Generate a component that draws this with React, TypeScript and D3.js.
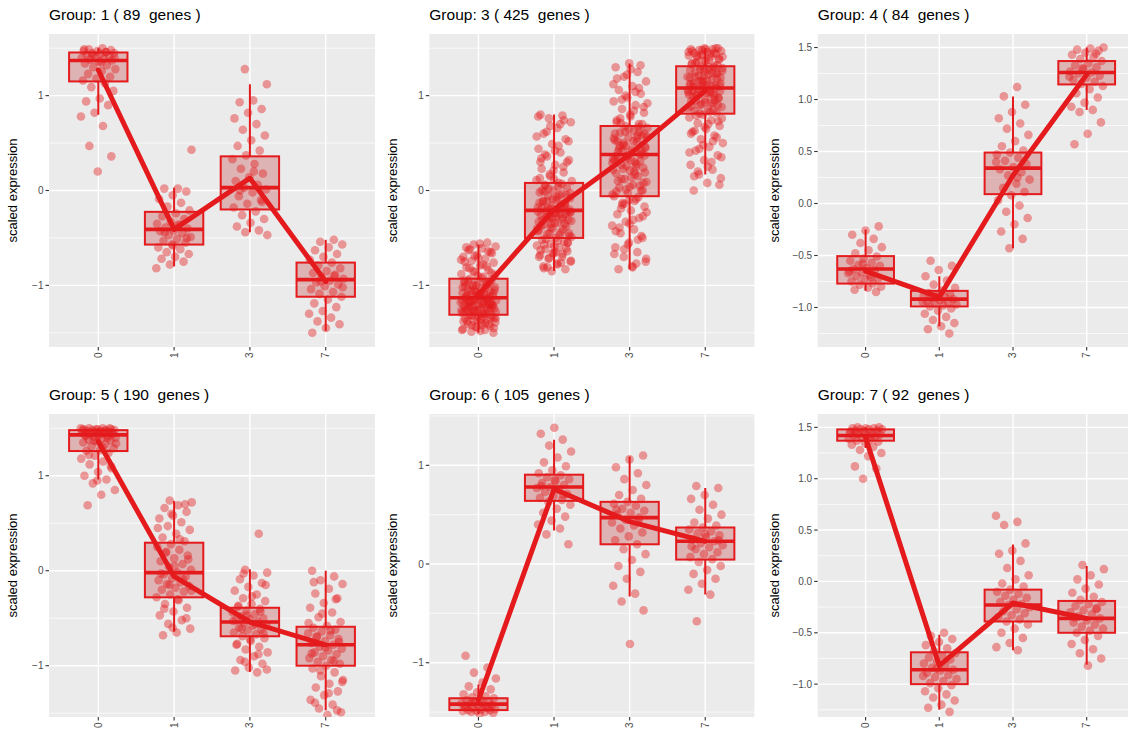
import React from "react";
import * as d3 from "d3";

// time points on the x axis and the clusters shown
const timepoints = ["0", "1", "3", "7"];
const groupIds = [1, 3, 4, 5, 6, 7];
const geneCounts = [89, 425, 84, 190, 105, 92];

// y range and ticks of every panel
const yDomains = [
  [-1.65, 1.65],
  [-1.65, 1.65],
  [-1.38, 1.63],
  [-1.54, 1.65],
  [-1.55, 1.52],
  [-1.32, 1.63],
];
const yTicks = [
  [-1, 0, 1],
  [-1, 0, 1],
  [-1, -0.5, 0, 0.5, 1, 1.5],
  [-1, 0, 1],
  [-1, 0, 1],
  [-1, -0.5, 0, 0.5, 1, 1.5],
];

// boxplot statistics per group (one value per time point)
const boxLow = [
  [0.8, -0.8, -0.44, -1.48],
  [-1.5, -0.85, -0.83, 0.17],
  [-0.84, -1.18, -0.43, 0.9],
  [0.96, -0.64, -1.065, -1.47],
  [-1.52, 0.34, -0.33, -0.31],
  [1.3, -1.25, -0.67, -0.81],
];
const boxQ1 = [
  [1.15, -0.57, -0.2, -1.12],
  [-1.31, -0.5, -0.06, 0.81],
  [-0.77, -0.99, 0.09, 1.145],
  [1.26, -0.28, -0.69, -1.0],
  [-1.48, 0.64, 0.2, 0.045],
  [1.37, -1.0, -0.39, -0.5],
];
const boxMedian = [
  [1.37, -0.41, 0.03, -0.94],
  [-1.13, -0.21, 0.38, 1.08],
  [-0.63, -0.92, 0.34, 1.26],
  [1.43, -0.02, -0.54, -0.78],
  [-1.42, 0.78, 0.47, 0.23],
  [1.42, -0.86, -0.23, -0.36],
];
const boxQ3 = [
  [1.455, -0.225, 0.36, -0.76],
  [-0.93, 0.08, 0.68, 1.31],
  [-0.506, -0.84, 0.49, 1.37],
  [1.48, 0.295, -0.39, -0.59],
  [-1.36, 0.905, 0.63, 0.37],
  [1.48, -0.69, -0.08, -0.19],
];
const boxHigh = [
  [1.5, 0.03, 1.12, -0.52],
  [-0.57, 0.8, 1.34, 1.5],
  [-0.25, -0.7, 1.03, 1.5],
  [1.5, 0.735, 0.015, 0.0],
  [-1.22, 1.26, 1.09, 0.77],
  [1.5, -0.52, 0.36, 0.15],
];
// trend line through the group means
const trendMean = [
  [1.27, -0.41, 0.13, -0.96],
  [-1.1, -0.2, 0.38, 1.05],
  [-0.65, -0.9, 0.27, 1.24],
  [1.36, -0.06, -0.54, -0.78],
  [-1.38, 0.76, 0.43, 0.23],
  [1.4, -0.82, -0.21, -0.36],
];

// scaled expression of the genes, per time point
const group1Points = [
  [1.5, 1.49, 1.48, 1.47, 1.47, 1.46, 1.45, 1.45, 1.44, 1.43, 1.42, 1.41, 1.4, 1.39, 1.38, 1.37, 1.36, 1.34, 1.32, 1.3, 1.28, 1.26, 1.23, 1.2, 1.18, 1.16, 1.13, 1.09, 1.05, 0.97, 0.94, 0.9, 0.82, 0.78, 0.68, 0.47, 0.36, 0.2, 1.49, 1.46, 1.43, 1.4, 1.35],
  [0.43, 0.02, 0.02, -0.01, -0.05, -0.09, -0.13, -0.17, -0.21, -0.24, -0.27, -0.3, -0.33, -0.35, -0.37, -0.39, -0.4, -0.42, -0.43, -0.45, -0.47, -0.49, -0.51, -0.53, -0.55, -0.57, -0.6, -0.62, -0.65, -0.67, -0.7, -0.72, -0.75, -0.78, -0.82, -0.36, -0.44, -0.5, -0.58],
  [1.28, 1.12, 0.95, 0.93, 0.86, 0.82, 0.76, 0.7, 0.64, 0.58, 0.53, 0.47, 0.42, 0.37, 0.33, 0.28, 0.23, 0.18, 0.14, 0.1, 0.06, 0.03, 0.01, -0.02, -0.06, -0.1, -0.14, -0.18, -0.22, -0.26, -0.3, -0.34, -0.38, -0.42, -0.44, -0.47, 0.2, 0.0, -0.12],
  [-0.52, -0.54, -0.57, -0.6, -0.63, -0.67, -0.7, -0.73, -0.76, -0.79, -0.82, -0.85, -0.87, -0.89, -0.91, -0.93, -0.95, -0.97, -0.99, -1.01, -1.04, -1.07, -1.09, -1.12, -1.15, -1.19, -1.23, -1.27, -1.3, -1.34, -1.38, -1.41, -1.45, -1.5, -0.9, -0.96, -1.02],
];
const group3Points = [
  [-0.55, -0.57, -0.59, -0.61, -0.63, -0.65, -0.68, -0.7, -0.72, -0.74, -0.76, -0.79, -0.81, -0.84, -0.86, -0.88, -0.91, -0.93, -0.94, -0.96, -0.97, -0.99, -1.0, -1.02, -1.03, -1.04, -1.06, -1.07, -1.08, -1.09, -1.1, -1.11, -1.12, -1.13, -1.14, -1.15, -1.16, -1.17, -1.18, -1.19, -1.2, -1.21, -1.22, -1.23, -1.24, -1.25, -1.26, -1.27, -1.28, -1.29, -1.3, -1.31, -1.32, -1.33, -1.35, -1.36, -1.37, -1.39, -1.4, -1.41, -1.43, -1.44, -1.46, -1.47, -1.49, -1.5,
    -0.56, -0.6, -0.64, -0.69, -0.73, -0.78, -0.82, -0.87, -0.9, -0.95, -0.98, -1.01, -1.05, -1.08, -1.1, -1.12, -1.14, -1.16, -1.18, -1.19, -1.21, -1.22, -1.24, -1.25, -1.27, -1.28, -1.3, -1.32, -1.34, -1.36, -1.38, -1.4, -1.42, -1.45, -1.48, -1.15, -1.2, -1.05, -1.26, -1.33,
    -0.62, -0.66, -0.71, -0.75, -0.8, -0.85, -0.89, -0.92, -0.95, -0.97, -1.0, -1.02, -1.04, -1.06, -1.08, -1.1, -1.12, -1.14, -1.16, -1.18, -1.2, -1.22, -1.24, -1.26, -1.28, -1.3, -1.32, -1.34, -1.36, -1.38, -1.41, -1.44, -1.47, -1.13, -1.17, -1.21, -1.09, -1.01, -0.99, -1.27, -1.35, -1.42, -1.23, -1.19, -1.11],
  [0.8, 0.79, 0.76, 0.72, 0.66, 0.6, 0.54, 0.49, 0.44, 0.4, 0.36, 0.32, 0.27, 0.23, 0.19, 0.15, 0.11, 0.08, 0.06, 0.03, 0.0, -0.02, -0.04, -0.06, -0.08, -0.1, -0.12, -0.14, -0.16, -0.18, -0.2, -0.21, -0.22, -0.24, -0.26, -0.28, -0.3, -0.32, -0.34, -0.36, -0.38, -0.4, -0.42, -0.44, -0.46, -0.48, -0.5, -0.52, -0.54, -0.56, -0.58, -0.6, -0.62, -0.64, -0.66, -0.68, -0.7, -0.72, -0.75, -0.77, -0.8, -0.83, -0.85,
    0.78, 0.7, 0.62, 0.52, 0.42, 0.34, 0.25, 0.17, 0.1, 0.04, -0.01, -0.05, -0.09, -0.13, -0.17, -0.19, -0.23, -0.27, -0.31, -0.35, -0.39, -0.43, -0.47, -0.51, -0.55, -0.59, -0.63, -0.67, -0.71, -0.74, -0.78, -0.82, -0.25, -0.29, -0.33, -0.15, -0.11, -0.45, -0.65, 0.0,
    0.74, 0.68, 0.57, 0.47, 0.38, 0.3, 0.21, 0.13, 0.07, 0.02, -0.03, -0.07, -0.11, -0.15, -0.19, -0.22, -0.25, -0.28, -0.31, -0.34, -0.37, -0.41, -0.45, -0.49, -0.53, -0.57, -0.61, -0.66, -0.7, -0.76, -0.81, -0.2, -0.24, -0.18, -0.13, -0.35, -0.4, -0.05, 0.05, -0.55, 0.12, 0.3, -0.3, -0.27, -0.23],
  [1.34, 1.3, 1.25, 1.2, 1.15, 1.1, 1.06, 1.02, 0.98, 0.94, 0.9, 0.86, 0.82, 0.78, 0.74, 0.7, 0.68, 0.66, 0.63, 0.61, 0.58, 0.56, 0.53, 0.51, 0.48, 0.46, 0.43, 0.41, 0.38, 0.36, 0.33, 0.3, 0.27, 0.24, 0.21, 0.18, 0.15, 0.12, 0.09, 0.06, 0.03, 0.0, -0.03, -0.06, -0.09, -0.13, -0.17, -0.21, -0.25, -0.29, -0.33, -0.37, -0.41, -0.45, -0.5, -0.55, -0.6, -0.65, -0.7, -0.75, -0.8, -0.83,
    1.32, 1.22, 1.12, 1.04, 0.96, 0.88, 0.8, 0.72, 0.67, 0.62, 0.57, 0.52, 0.47, 0.42, 0.37, 0.32, 0.28, 0.23, 0.19, 0.14, 0.1, 0.05, 0.01, -0.04, -0.11, -0.19, -0.27, -0.35, -0.43, -0.52, -0.62, -0.72, -0.81, 0.44, 0.39, 0.34, 0.55, 0.25, -0.15, 0.6,
    1.28, 1.18, 1.08, 1.0, 0.92, 0.84, 0.76, 0.7, 0.65, 0.6, 0.55, 0.5, 0.45, 0.4, 0.35, 0.31, 0.26, 0.22, 0.17, 0.12, 0.08, 0.04, -0.01, -0.07, -0.14, -0.23, -0.31, -0.39, -0.48, -0.57, -0.67, -0.77, 0.42, 0.37, 0.32, 0.52, 0.62, 0.47, 0.29, 0.2, 0.71, 0.0, -0.1, 0.36, 0.58],
  [1.5, 1.5, 1.49, 1.49, 1.48, 1.47, 1.46, 1.45, 1.44, 1.43, 1.42, 1.41, 1.4, 1.38, 1.36, 1.34, 1.32, 1.31, 1.29, 1.27, 1.25, 1.23, 1.21, 1.19, 1.17, 1.15, 1.13, 1.11, 1.09, 1.08, 1.06, 1.04, 1.02, 1.0, 0.98, 0.96, 0.94, 0.92, 0.9, 0.88, 0.86, 0.84, 0.82, 0.8, 0.77, 0.74, 0.71, 0.68, 0.65, 0.62, 0.58, 0.54, 0.5, 0.46, 0.42, 0.37, 0.32, 0.27, 0.22, 0.17, 0.13, 0.08, 0.0,
    1.5, 1.48, 1.46, 1.44, 1.42, 1.39, 1.37, 1.33, 1.3, 1.28, 1.26, 1.22, 1.2, 1.18, 1.14, 1.12, 1.1, 1.07, 1.05, 1.03, 0.99, 0.95, 0.91, 0.87, 0.83, 0.79, 0.73, 0.67, 0.6, 0.52, 0.44, 0.35, 0.25, 0.15, 1.24, 1.16, 1.01, 0.93, 1.35, 0.06,
    1.49, 1.47, 1.45, 1.43, 1.41, 1.38, 1.35, 1.32, 1.29, 1.27, 1.24, 1.21, 1.19, 1.16, 1.13, 1.11, 1.09, 1.06, 1.04, 1.01, 0.97, 0.93, 0.89, 0.85, 0.81, 0.76, 0.7, 0.63, 0.56, 0.48, 0.4, 0.3, 0.2, 1.1, 1.08, 1.05, 1.0, 1.15, 1.2, 1.3, 0.95, 0.9, 1.25, 1.12, 1.02],
];
const group4Points = [
  [-0.22, -0.26, -0.3, -0.34, -0.38, -0.42, -0.45, -0.48, -0.51, -0.53, -0.55, -0.57, -0.59, -0.6, -0.62, -0.63, -0.64, -0.66, -0.67, -0.69, -0.7, -0.72, -0.73, -0.75, -0.77, -0.78, -0.8, -0.81, -0.83, -0.85, -0.58, -0.65, -0.71],
  [-0.55, -0.6, -0.64, -0.7, -0.74, -0.78, -0.81, -0.84, -0.86, -0.87, -0.88, -0.89, -0.9, -0.91, -0.92, -0.93, -0.94, -0.95, -0.96, -0.97, -0.98, -0.99, -1.01, -1.03, -1.06, -1.09, -1.12, -1.15, -1.18, -1.21, -1.25, -0.9, -0.95],
  [1.12, 1.03, 0.95, 0.88, 0.82, 0.77, 0.72, 0.66, 0.6, 0.55, 0.51, 0.49, 0.47, 0.44, 0.41, 0.38, 0.35, 0.33, 0.3, 0.27, 0.23, 0.19, 0.15, 0.11, 0.08, 0.03, -0.02, -0.08, -0.14, -0.2, -0.27, -0.34, -0.43, 0.4, 0.25],
  [1.5, 1.49, 1.48, 1.47, 1.45, 1.43, 1.41, 1.39, 1.37, 1.35, 1.33, 1.31, 1.29, 1.27, 1.26, 1.25, 1.23, 1.21, 1.19, 1.17, 1.15, 1.13, 1.1, 1.06, 1.02, 0.97, 0.93, 0.9, 0.88, 0.78, 0.67, 0.57, 1.44, 1.3, 1.22],
];
const group5Points = [
  [1.5, 1.5, 1.5, 1.49, 1.49, 1.49, 1.48, 1.48, 1.48, 1.47, 1.47, 1.46, 1.46, 1.45, 1.45, 1.44, 1.44, 1.43, 1.43, 1.42, 1.41, 1.4, 1.39, 1.38, 1.37, 1.36, 1.35, 1.33, 1.31, 1.29, 1.27, 1.26, 1.24, 1.21, 1.18, 1.15, 1.12, 1.08, 1.04, 1.0, 0.96, 0.92, 0.85, 0.8, 0.69,
    1.5, 1.49, 1.48, 1.47, 1.46, 1.45, 1.44, 1.42, 1.4, 1.37, 1.34, 1.3, 1.22, 1.1, 0.95],
  [0.74, 0.72, 0.69, 0.66, 0.62, 0.58, 0.55, 0.51, 0.47, 0.43, 0.39, 0.35, 0.31, 0.28, 0.25, 0.22, 0.19, 0.16, 0.13, 0.1, 0.07, 0.04, 0.01, -0.02, -0.04, -0.06, -0.08, -0.1, -0.12, -0.14, -0.16, -0.18, -0.2, -0.22, -0.25, -0.28, -0.31, -0.35, -0.39, -0.43, -0.47, -0.52, -0.56, -0.61, -0.65, -0.68,
    0.7, 0.6, 0.45, 0.33, 0.2, 0.12, 0.05, -0.03, -0.09, -0.15, -0.21, -0.3, -0.4, -0.5, -0.6],
  [0.39, 0.01, -0.02, -0.05, -0.09, -0.13, -0.17, -0.21, -0.25, -0.29, -0.32, -0.35, -0.38, -0.4, -0.42, -0.44, -0.46, -0.48, -0.5, -0.51, -0.52, -0.54, -0.55, -0.57, -0.58, -0.6, -0.62, -0.63, -0.65, -0.67, -0.69, -0.71, -0.74, -0.77, -0.8, -0.83, -0.86, -0.9, -0.94, -0.98, -1.02, -1.05, -1.07,
    -0.03, -0.15, -0.27, -0.37, -0.43, -0.47, -0.53, -0.56, -0.61, -0.66, -0.72, -0.78, -0.88, -0.96, -1.04],
  [0.0, -0.06, -0.1, -0.14, -0.19, -0.24, -0.29, -0.34, -0.39, -0.44, -0.49, -0.54, -0.58, -0.6, -0.62, -0.64, -0.66, -0.68, -0.7, -0.72, -0.74, -0.76, -0.78, -0.8, -0.82, -0.84, -0.86, -0.88, -0.9, -0.92, -0.94, -0.96, -0.98, -1.0, -1.03, -1.07, -1.11, -1.15, -1.19, -1.23, -1.27, -1.31, -1.36, -1.41, -1.45, -1.49, -1.52,
    -0.12, -0.3, -0.45, -0.55, -0.63, -0.69, -0.75, -0.81, -0.87, -0.95, -1.05, -1.17, -1.29, -1.39, -1.47],
];
const group6Points = [
  [-0.93, -1.05, -1.1, -1.16, -1.2, -1.24, -1.27, -1.3, -1.32, -1.34, -1.35, -1.36, -1.37, -1.38, -1.39, -1.4, -1.41, -1.42, -1.42, -1.43, -1.44, -1.45, -1.45, -1.46, -1.47, -1.47, -1.48, -1.48, -1.49, -1.49, -1.5, -1.5, -1.51, -1.52, -1.44, -1.46, -1.4],
  [1.38, 1.32, 1.26, 1.2, 1.14, 1.08, 1.03, 0.99, 0.95, 0.92, 0.9, 0.88, 0.86, 0.84, 0.82, 0.8, 0.78, 0.77, 0.75, 0.73, 0.71, 0.69, 0.67, 0.65, 0.63, 0.6, 0.56, 0.52, 0.48, 0.44, 0.4, 0.36, 0.3, 0.2, 0.85, 0.79, 0.7],
  [1.1, 1.06, 0.98, 0.92, 0.86, 0.8, 0.75, 0.7, 0.66, 0.63, 0.61, 0.59, 0.56, 0.54, 0.52, 0.5, 0.47, 0.45, 0.42, 0.39, 0.36, 0.32, 0.28, 0.24, 0.2, 0.15, 0.1, 0.04, -0.02, -0.08, -0.15, -0.22, -0.3, -0.38, -0.47, -0.81, 0.55, 0.44],
  [0.79, 0.77, 0.7, 0.66, 0.6, 0.55, 0.5, 0.46, 0.42, 0.39, 0.37, 0.35, 0.33, 0.31, 0.29, 0.27, 0.25, 0.23, 0.21, 0.19, 0.17, 0.15, 0.12, 0.1, 0.07, 0.05, 0.02, -0.02, -0.06, -0.1, -0.15, -0.2, -0.26, -0.31, -0.58, 0.24, 0.3, 0.18],
];
const group7Points = [
  [1.5, 1.5, 1.49, 1.49, 1.49, 1.48, 1.48, 1.48, 1.47, 1.47, 1.46, 1.46, 1.45, 1.44, 1.43, 1.42, 1.42, 1.41, 1.4, 1.39, 1.38, 1.37, 1.36, 1.35, 1.33, 1.31, 1.28, 1.25, 1.22, 1.12, 1.1, 1.0, 1.45, 1.41],
  [-0.5, -0.53, -0.56, -0.59, -0.62, -0.65, -0.68, -0.7, -0.72, -0.74, -0.76, -0.78, -0.8, -0.82, -0.84, -0.86, -0.87, -0.89, -0.91, -0.93, -0.95, -0.97, -0.99, -1.01, -1.04, -1.07, -1.1, -1.13, -1.16, -1.2, -1.23, -1.27, -0.85, -0.92],
  [0.64, 0.58, 0.55, 0.37, 0.3, 0.27, 0.2, 0.13, 0.06, 0.02, -0.02, -0.05, -0.08, -0.1, -0.12, -0.14, -0.16, -0.18, -0.2, -0.22, -0.23, -0.25, -0.27, -0.29, -0.31, -0.33, -0.35, -0.37, -0.39, -0.42, -0.46, -0.5, -0.55, -0.6, -0.64, -0.67],
  [0.16, 0.12, 0.06, 0.02, -0.03, -0.07, -0.11, -0.15, -0.18, -0.2, -0.22, -0.24, -0.26, -0.28, -0.3, -0.32, -0.34, -0.36, -0.38, -0.4, -0.42, -0.44, -0.46, -0.48, -0.5, -0.53, -0.57, -0.61, -0.66, -0.7, -0.75, -0.82, -0.35, -0.27],
];
const groupPoints = [group1Points, group3Points, group4Points, group5Points, group6Points, group7Points];

const RED = "#E41A1C";
const FONT = '"Liberation Sans", Arial, Helvetica, sans-serif';

// panel grid (3 columns x 2 rows)
const colLeft = [49, 429.3, 817.7];
const colRight = [375, 754.4, 1134.6];
const rowTop = [34, 414];
const rowBottom = [347, 717];

function fmtTick(v: number, decimals: boolean) {
  const s = decimals ? Math.abs(v).toFixed(1) : String(Math.abs(v));
  return v < 0 ? "\u2212" + s : s;
}

function Panel({ k }: { k: number }) {
  const col = k % 3;
  const row = Math.floor(k / 3);
  const left = colLeft[col];
  const right = colRight[col];
  const top = rowTop[row];
  const bottom = rowBottom[row];

  const x = d3.scalePoint<string>().domain(timepoints).range([left, right]).padding(0.65);
  const y = d3.scaleLinear().domain(yDomains[k]).range([bottom, top]);
  const step = x.step();
  const boxW = step * 0.77;

  const ticks = yTicks[k];
  const decimals = ticks.some((t) => !Number.isInteger(t));
  const tickStep = ticks[1] - ticks[0];
  const minor = d3
    .range(ticks[0] - tickStep / 2, ticks[ticks.length - 1] + tickStep, tickStep)
    .filter((v) => v >= yDomains[k][0] && v <= yDomains[k][1]);

  const line = d3
    .line<number>()
    .x((_, i) => x(timepoints[i]) as number)
    .y((d) => y(d));

  const axisTitleX = left - (decimals ? 43 : 36.5);

  return (
    <g>
      <text x={left} y={top - 14} fontSize={15.5} fill="#000" style={{ whiteSpace: "pre" }}>
        {`Group: ${groupIds[k]} ( ${geneCounts[k]}  genes )`}
      </text>
      <defs>
        <clipPath id={`clip${k}`}>
          <rect x={left} y={top} width={right - left} height={bottom - top} />
        </clipPath>
      </defs>
      <rect x={left} y={top} width={right - left} height={bottom - top} fill="#EBEBEB" />
      {minor.map((v) => (
        <line key={"m" + v} x1={left} x2={right} y1={y(v)} y2={y(v)} stroke="#fff" strokeWidth={0.7} />
      ))}
      {ticks.map((v) => (
        <line key={"g" + v} x1={left} x2={right} y1={y(v)} y2={y(v)} stroke="#fff" strokeWidth={1.4} />
      ))}
      {timepoints.map((t) => (
        <line key={"gx" + t} x1={x(t)} x2={x(t)} y1={top} y2={bottom} stroke="#fff" strokeWidth={1.4} />
      ))}

      <g clipPath={`url(#clip${k})`}>
        {timepoints.map((t, i) => {
          const cx = x(t) as number;
          return (
            <g key={"b" + t}>
              <line x1={cx} x2={cx} y1={y(boxQ3[k][i])} y2={y(boxHigh[k][i])} stroke={RED} strokeWidth={2} />
              <line x1={cx} x2={cx} y1={y(boxQ1[k][i])} y2={y(boxLow[k][i])} stroke={RED} strokeWidth={2} />
              <rect
                x={cx - boxW / 2}
                y={y(boxQ3[k][i])}
                width={boxW}
                height={y(boxQ1[k][i]) - y(boxQ3[k][i])}
                fill="rgb(200,95,98)"
                fillOpacity={0.4}
                stroke={RED}
                strokeWidth={2}
              />
              <line
                x1={cx - boxW / 2}
                x2={cx + boxW / 2}
                y1={y(boxMedian[k][i])}
                y2={y(boxMedian[k][i])}
                stroke={RED}
                strokeWidth={3.6}
              />
            </g>
          );
        })}
        {timepoints.map((t, i) =>
          groupPoints[k][i].map((v, j) => {
            // jitter offset (ggplot draws jittered points)
            const f = ((j + 1) * 0.6180339887 + i * 0.37 + k * 0.13) % 1;
            return (
              <circle
                key={t + "-" + j}
                cx={(x(t) as number) + (f - 0.5) * 0.47 * step}
                cy={y(v)}
                r={4.3}
                fill={RED}
                fillOpacity={0.42}
              />
            );
          })
        )}
        <path d={line(trendMean[k]) || ""} fill="none" stroke={RED} strokeWidth={5} strokeLinejoin="round" strokeLinecap="round" />
      </g>

      {ticks.map((v) => (
        <g key={"t" + v}>
          <line x1={left - 3.5} x2={left} y1={y(v)} y2={y(v)} stroke="#333" strokeWidth={1.1} />
          <text x={left - 5.5} y={y(v)} dy="0.35em" textAnchor="end" fontSize={10} fill="#4D4D4D">
            {fmtTick(v, decimals)}
          </text>
        </g>
      ))}
      {timepoints.map((t) => (
        <g key={"xt" + t}>
          <line x1={x(t)} x2={x(t)} y1={bottom} y2={bottom + 3.5} stroke="#333" strokeWidth={1.1} />
          <text
            transform={`translate(${x(t)},${bottom + 5.5}) rotate(-90)`}
            dy="0.35em"
            textAnchor="end"
            fontSize={10}
            fill="#4D4D4D"
          >
            {t}
          </text>
        </g>
      ))}
      <text
        transform={`translate(${axisTitleX},${(top + bottom) / 2}) rotate(-90)`}
        textAnchor="middle"
        dy="0.35em"
        fontSize={13}
        fill="#000"
      >
        scaled expression
      </text>
    </g>
  );
}

export default function App() {
  return (
    <svg
      width={1128}
      height={740}
      style={{ position: "absolute", left: 0, top: 0, background: "#fff" }}
      fontFamily={FONT}
    >
      {groupIds.map((_, k) => (
        <Panel key={k} k={k} />
      ))}
    </svg>
  );
}
